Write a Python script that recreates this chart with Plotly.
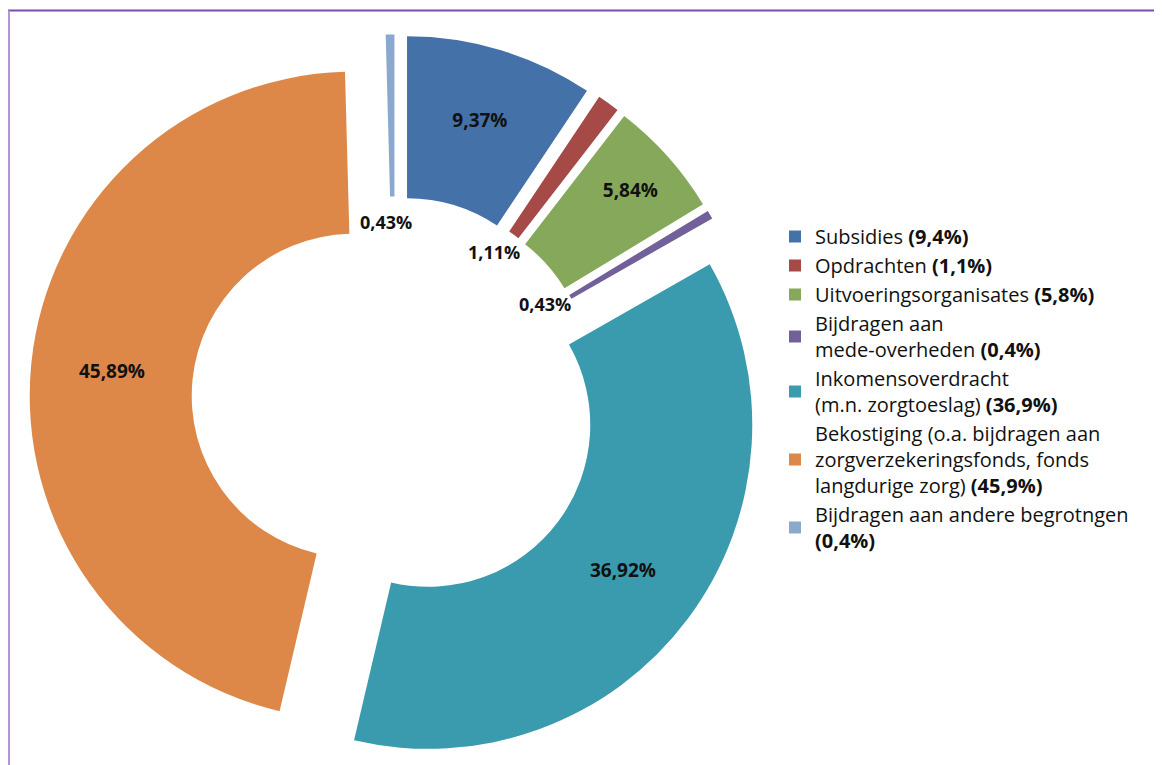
import math
import plotly.graph_objects as go

# ---- data ----
categories = [
    "Subsidies <b>(9,4%)</b>",
    "Opdrachten <b>(1,1%)</b>",
    "Uitvoeringsorganisates <b>(5,8%)</b>",
    "Bijdragen aan<br>mede-overheden <b>(0,4%)</b>",
    "Inkomensoverdracht<br>(m.n. zorgtoeslag) <b>(36,9%)</b>",
    "Bekostiging (o.a. bijdragen aan<br>zorgverzekeringsfonds, fonds<br>langdurige zorg) <b>(45,9%)</b>",
    "Bijdragen aan andere begrotngen<br><b>(0,4%)</b>",
]
values = [9.37, 1.11, 5.84, 0.43, 36.92, 45.89, 0.43]
value_labels = ["9,37%", "1,11%", "5,84%", "0,43%", "36,92%", "45,89%", "0,43%"]
colors = ["#4472A8", "#A54A47", "#86A85B", "#71609A", "#3A9AAE", "#DD8749", "#8BA8CF"]

W, H = 1162, 765
PULL = 0.128
HOLE = 0.5
DOM_X = [0, 0.6661]
DOM_Y = [0.0098, 0.9654]
SMALL = 2.0
FONT = "Open Sans"

inside_text = [lab if v >= SMALL else "" for lab, v in zip(value_labels, values)]

fig = go.Figure(go.Pie(
    labels=categories,
    values=values,
    text=inside_text,
    textinfo="text",
    textposition="inside",
    insidetextorientation="horizontal",
    textfont=dict(family=FONT, size=19, color="#111111", weight="bold"),
    marker=dict(colors=colors, line=dict(width=0)),
    hole=HOLE,
    pull=[PULL] * len(values),
    sort=False,
    direction="clockwise",
    rotation=0,
    domain=dict(x=DOM_X, y=DOM_Y),
    showlegend=True,
    hoverinfo="label+percent",
))

# geometry of the pie (same formula plotly uses) to place labels of small slices in the hole
avail_w = W * (DOM_X[1] - DOM_X[0])
avail_h = H * (DOM_Y[1] - DOM_Y[0])
R = min(avail_w, avail_h) / 2 / (1 + PULL)
cx = W * (DOM_X[0] + DOM_X[1]) / 2
cy = H * (1 - (DOM_Y[0] + DOM_Y[1]) / 2)
total = sum(values)
cum = 0.0
annotations = []
for v, lab in zip(values, value_labels):
    mid = (cum + v / 2) / total * 2 * math.pi - math.radians(2)
    cum += v
    if v >= SMALL:
        continue
    rr = R * 0.55
    px = cx + rr * math.sin(mid)
    py = cy - rr * math.cos(mid)
    annotations.append(dict(
        x=px / W, y=1 - py / H, xref="paper", yref="paper",
        xanchor="center", yanchor="middle",
        text="<b>" + lab + "</b>", showarrow=False,
        font=dict(family=FONT, size=18, color="#111111"),
    ))

shapes = [
    dict(type="line", xref="paper", yref="paper", x0=0, x1=1, y0=1 - 2.5 / H, y1=1 - 2.5 / H,
         line=dict(color="#7A4CAE", width=2)),
    dict(type="line", xref="paper", yref="paper", x0=1 / W, x1=1 / W, y0=0, y1=1 - 2.5 / H,
         line=dict(color="#B595D2", width=2)),
]

fig.update_layout(
    width=W, height=H,
    margin=dict(l=0, r=0, t=0, b=0),
    paper_bgcolor="white",
    plot_bgcolor="white",
    font=dict(family=FONT, size=20, color="#111111"),
    legend=dict(
        x=767 / W, y=1 - 209 / H, xanchor="left", yanchor="top",
        font=dict(family=FONT, size=20, color="#111111"),
        bgcolor="rgba(0,0,0,0)",
        traceorder="normal",
    ),
    annotations=annotations,
    shapes=shapes,
)

fig.write_html("out.html")
